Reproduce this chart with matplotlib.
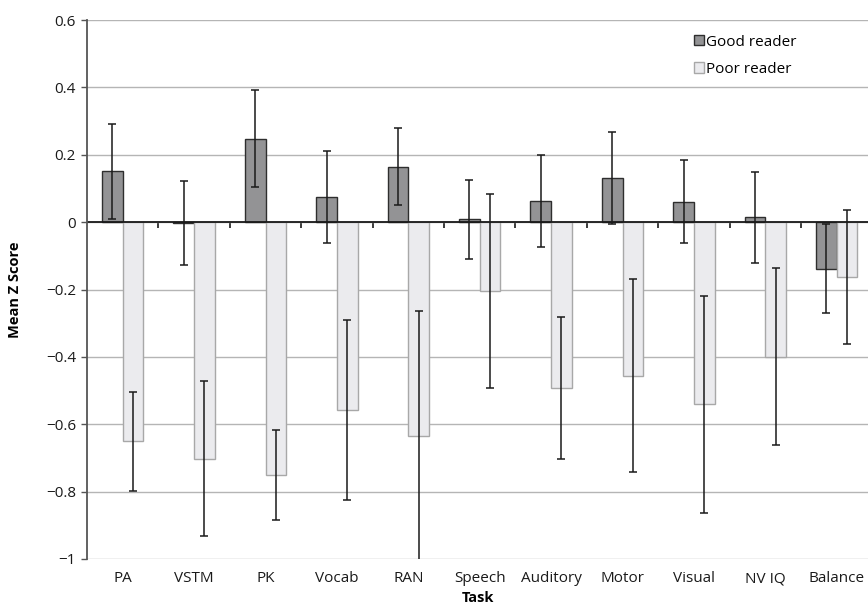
import numpy as np
import matplotlib.pyplot as plt

plt.rcParams['font.family'] = ['Open Sans', 'DejaVu Sans']
plt.rcParams['axes.unicode_minus'] = True

tasks = ["PA", "VSTM", "PK", "Vocab", "RAN", "Speech", "Auditory", "Motor", "Visual", "NV IQ", "Balance"]

good_mean = [0.151, -0.002, 0.248, 0.074, 0.165, 0.009, 0.062, 0.131, 0.061, 0.015, -0.138]
good_err = [0.141, 0.124, 0.145, 0.137, 0.113, 0.117, 0.136, 0.138, 0.122, 0.135, 0.132]

poor_mean = [-0.651, -0.702, -0.751, -0.558, -0.635, -0.204, -0.493, -0.456, -0.541, -0.399, -0.163]
poor_err = [0.147, 0.231, 0.133, 0.267, 0.37, 0.288, 0.21, 0.287, 0.322, 0.264, 0.2]

yticks = [0.6, 0.4, 0.2, 0, -0.2, -0.4, -0.6, -0.8, -1]

fig = plt.figure(figsize=(8.68, 6.08), dpi=100)
ax = fig.add_axes([87 / 868, 1 - 559 / 608, 1 - 87 / 868, (559 - 20) / 608])

x = np.arange(len(tasks))
w = 0.29

ax.bar(x - w / 2, good_mean, w, color="#939395", edgecolor="#2e2e2e", linewidth=1.0,
       label="Good reader", zorder=2)
ax.bar(x + w / 2, poor_mean, w, color="#ebebee", edgecolor="#a8a8a8", linewidth=1.0,
       label="Poor reader", zorder=2)

ax.errorbar(x - w / 2, good_mean, yerr=good_err, fmt="none", ecolor="#1a1a1a",
            elinewidth=1.1, capsize=3, capthick=1.1, zorder=3)
ax.errorbar(x + w / 2, poor_mean, yerr=poor_err, fmt="none", ecolor="#1a1a1a",
            elinewidth=1.1, capsize=3, capthick=1.1, zorder=3)

# zero line
ax.axhline(0, color="#1a1a1a", linewidth=1.3, zorder=2.5)

ax.set_ylim(-1, 0.6)
ax.set_xlim(-0.5, -0.5 + 781 / 71.4)
ax.set_yticks(yticks)
ax.set_yticklabels([("%g" % v).replace("-", "\u2212") for v in yticks])
ax.yaxis.grid(True, color="#b5b5b5", linewidth=1.0, zorder=0)
ax.set_axisbelow(True)

for s in ["top", "right", "bottom"]:
    ax.spines[s].set_visible(False)
ax.spines["left"].set_color("#555555")
ax.spines["left"].set_linewidth(1.3)

ax.tick_params(axis="y", direction="out", length=4, width=1, color="#555555",
               labelsize=11, pad=4, labelcolor="#1a1a1a")
ax.set_xticks(x)
ax.set_xticklabels(tasks)
ax.tick_params(axis="x", length=0, labelsize=11, pad=9, labelcolor="#1a1a1a")

# small ticks between categories on the zero line
zero_pos = (0 - (-1)) / 1.6
sec = ax.secondary_xaxis(zero_pos)
sec.set_xticks(x[:-1] + 0.5)
sec.set_xticklabels([])
sec.tick_params(direction="in", length=4, width=1.2, color="#1a1a1a")
for s in sec.spines.values():
    s.set_visible(False)

ax.set_ylabel("Mean Z Score", fontsize=10.5, fontweight="bold", labelpad=17)
ax.set_xlabel("Task", fontsize=10.5, fontweight="bold", labelpad=3)

ax.legend(loc="upper left", bbox_to_anchor=(686 / 868, 1 - 27 / 608),
          bbox_transform=fig.transFigure, frameon=False, fontsize=11,
          handlelength=0.65, handleheight=0.65, handletextpad=0.15,
          labelspacing=0.8, borderpad=0)

fig.savefig("out.png", dpi=100)
